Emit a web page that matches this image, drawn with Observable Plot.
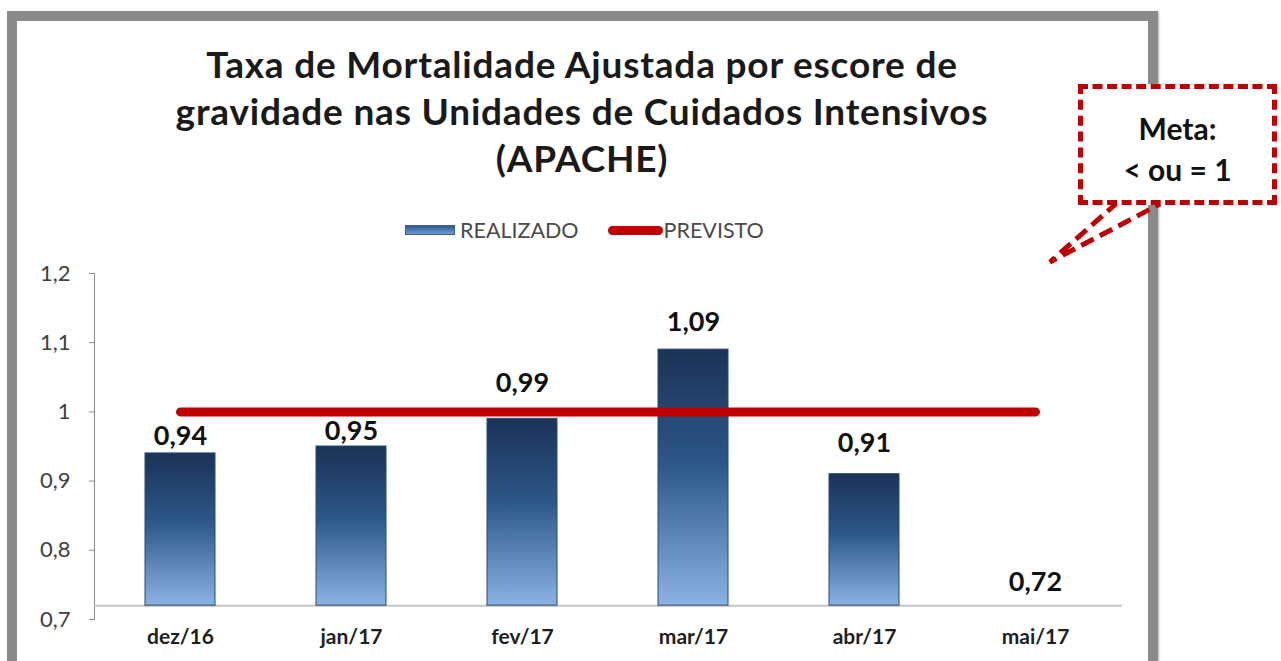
<!DOCTYPE html>
<html>
<head>
<meta charset="utf-8">
<script src="https://cdn.jsdelivr.net/npm/d3@7"></script>
<script src="https://cdn.jsdelivr.net/npm/@observablehq/plot@0.6"></script>
<style>
  html, body { margin: 0; padding: 0; background: #fff; }
  #stage { position: relative; width: 1281px; height: 661px; overflow: hidden; font-family: Lato, "DejaVu Sans", sans-serif; }
  #frame { position: absolute; left: 7px; top: 11px; width: 1131px; height: 660px; border: 10px solid #8a8a8a; border-bottom: none; background: #fff; box-shadow: 1px 1px 2px rgba(0,0,0,0.3); }
  #title { position: absolute; left: 0; top: 40px; width: 1164px; text-align: center; font-weight: 700; font-size: 37px; letter-spacing: 0.8px; line-height: 47px; color: #1a1a1a; }
  #legend { position: absolute; top: 218px; left: 405px; height: 24px; display: flex; align-items: center; font-size: 21.5px; color: #4a4a4a; }
  .sw-bar { width: 50px; height: 10px; background: linear-gradient(#2f5a91, #6e9bd4); border: 1px solid #3c5f8e; box-sizing: border-box; margin-right: 5px; }
  .sw-line { width: 55px; height: 9px; background: #c00000; border-radius: 5px; margin-left: 29px; margin-right: 1px; }
  #chart { position: absolute; left: 0; top: 250px; }
  #callout { position: absolute; left: 1078px; top: 84px; width: 199px; height: 121px; box-sizing: border-box; border: 5px dashed #c00000; background: #fff; text-align: center; font-weight: 700; font-size: 30px; line-height: 41px; color: #111; padding-top: 19px; }
  #pointer { position: absolute; left: 0; top: 0; }
</style>
</head>
<body>
<div id="stage">
  <div id="frame"></div>
  <div id="title">Taxa de Mortalidade Ajustada por escore de<br>gravidade nas Unidades de Cuidados Intensivos<br>(APACHE)</div>
  <div id="legend"><div class="sw-bar"></div><span>REALIZADO</span><div class="sw-line"></div><span>PREVISTO</span></div>
  <div id="chart"></div>
  <svg id="pointer" width="1281" height="661">
    <polyline points="1118,202 1050,262 1160,204" fill="none" stroke="#c00000" stroke-width="5" stroke-dasharray="14,7"/>
  </svg>
  <div id="callout">Meta:<br>&lt; ou = 1</div>
</div>
<script>
// ---- data ----
const months = ["dez/16", "jan/17", "fev/17", "mar/17", "abr/17", "mai/17"];
const realizado = [0.94, 0.95, 0.99, 1.09, 0.91, 0.72];
const previsto = [1, 1, 1, 1, 1, 1];
const yTicks = [0.7, 0.8, 0.9, 1.0, 1.1, 1.2];
const baseline = 0.72;
const seriesNames = ["REALIZADO", "PREVISTO"];

const rows = months.map((m, i) => ({ m, r: realizado[i], p: previsto[i] }));
const fmt = d => String(+(+d).toFixed(2)).replace(".", ",");

// label offsets (style) as placed in the original
const labelDy = { "dez/16": -17, "jan/17": -15, "fev/17": -35, "mar/17": -27, "abr/17": -31, "mai/17": -23 };

const chart = Plot.plot({
  width: 1281,
  height: 411,
  marginTop: 23,
  marginBottom: 42,
  marginLeft: 94,
  marginRight: 159,
  style: { background: "transparent", fontFamily: "Lato, sans-serif", color: "#404040" },
  x: { domain: months, paddingInner: 0.59, paddingOuter: 0.3, label: null },
  y: { domain: [0.7, 1.2], label: null },
  marks: [
    Plot.frame({ anchor: "left", stroke: "#8c8c8c" }),
    Plot.axisY({ ticks: yTicks, tickSize: 5, tickPadding: 19, fontSize: 22, tickFormat: fmt, stroke: "#8c8c8c" }),
    Plot.axisX({ tickSize: 0, tickPadding: 10, fontSize: 21, fontWeight: "bold", fill: "#1e1e1e" }),
    Plot.ruleY([baseline], { stroke: "#c4c4c4", strokeWidth: 2 }),
    Plot.barY(rows, { x: "m", y1: baseline, y2: "r", fill: "url(#barGrad)", stroke: "#274a78", strokeWidth: 1 }),
    Plot.lineY(rows, { x: "m", y: "p", stroke: "#c00000", strokeWidth: 9, strokeLinecap: "round" }),
    ...rows.map(row => Plot.text([row], { x: "m", y: "r", text: d => fmt(d.r), dy: labelDy[row.m], fontSize: 27, fontWeight: "bold", fill: "#111" }))
  ]
});

d3.select(chart).insert("defs", ":first-child").html(
  `<linearGradient id="barGrad" x1="0" y1="0" x2="0" y2="1">
     <stop offset="0" stop-color="#1b3256"/>
     <stop offset="0.45" stop-color="#2d5789"/>
     <stop offset="1" stop-color="#8ab3e3"/>
   </linearGradient>`
);
document.getElementById("chart").appendChild(chart);
</script>
</body>
</html>
